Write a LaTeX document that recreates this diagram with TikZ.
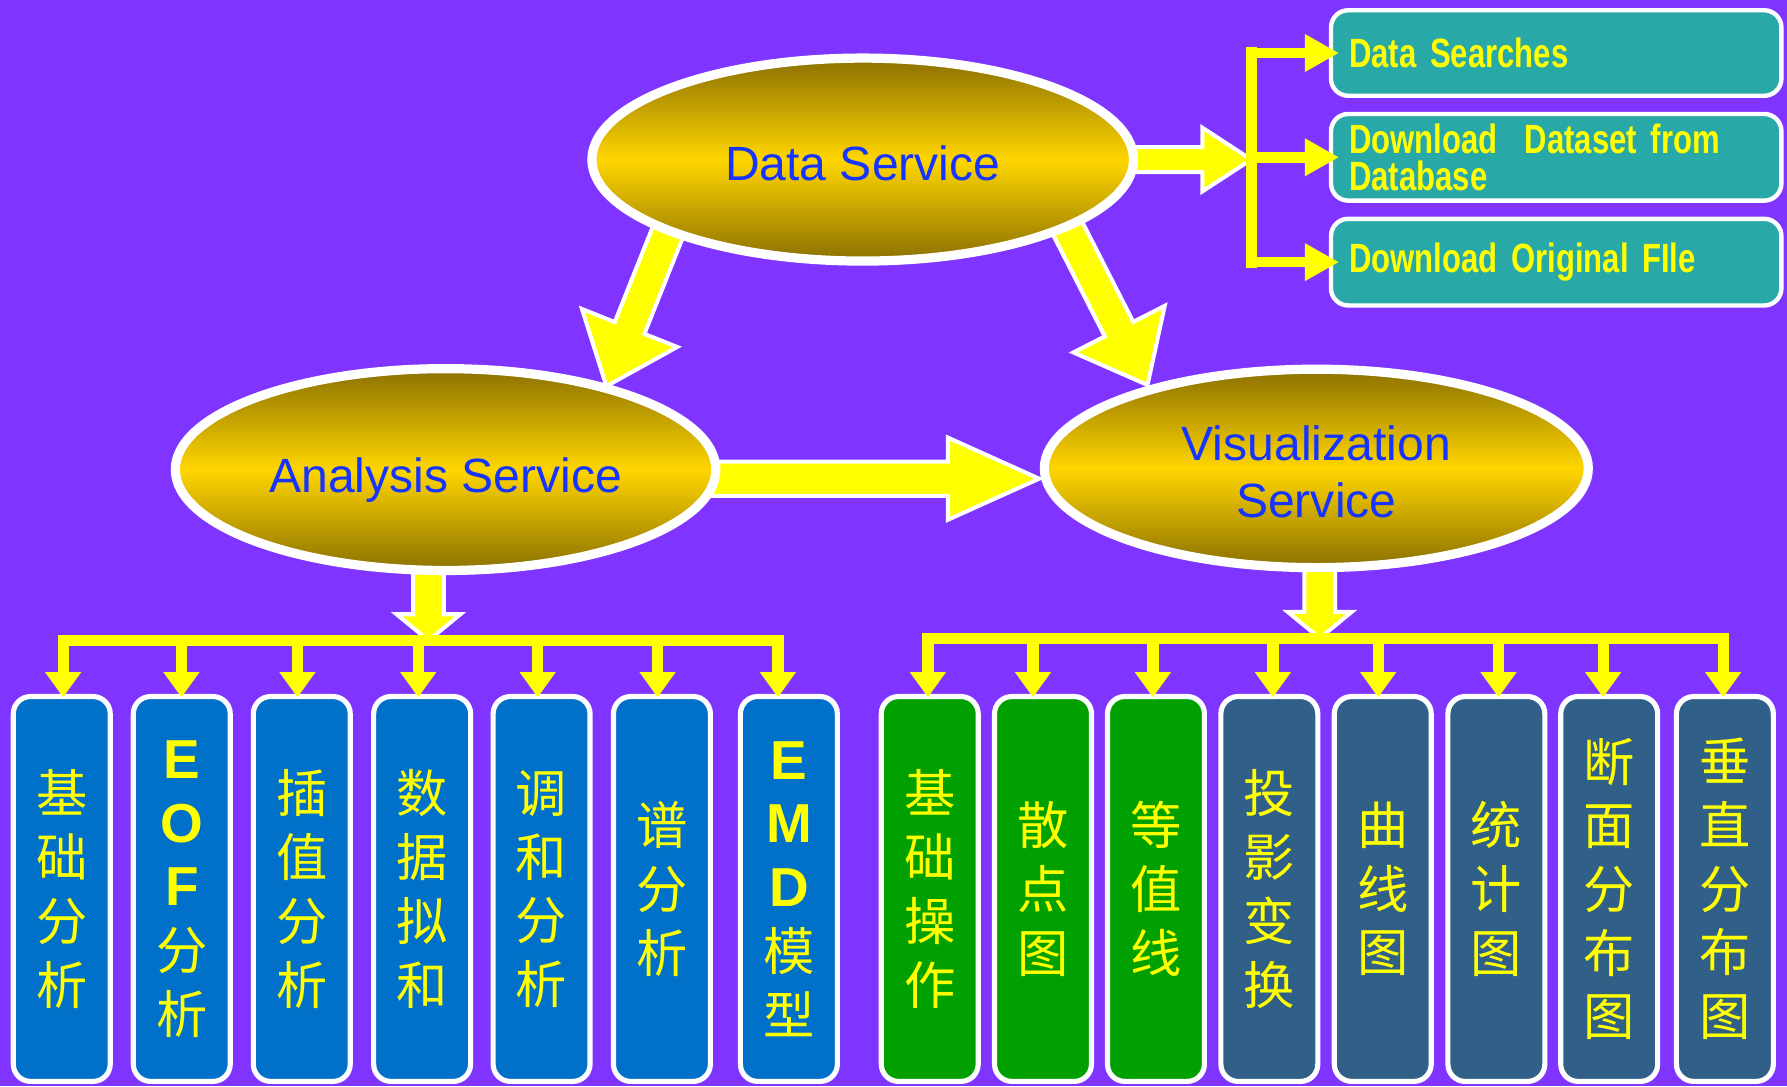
\documentclass[tikz,border=0pt]{standalone}
\usepackage{fontspec}
\setmainfont{Liberation Sans}
\newfontfamily\cjk{Noto Sans CJK SC}
\newfontfamily\narrowfont{Liberation Sans}[FakeStretch=0.76]
\usetikzlibrary{shapes.geometric,arrows.meta,calc}
\pgfdeclarelayer{back}
\pgfdeclarelayer{arrowlayer}
\pgfsetlayers{back,arrowlayer,main}

\definecolor{bgpurple}{RGB}{127,52,255}
\definecolor{ayellow}{RGB}{255,255,0}
\definecolor{gdark}{RGB}{139,112,0}
\definecolor{gbright}{RGB}{255,214,0}
\definecolor{stext}{RGB}{22,52,255}
\definecolor{boxteal}{RGB}{41,168,168}
\definecolor{boxblue}{RGB}{0,112,200}
\definecolor{boxgreen}{RGB}{0,160,0}
\definecolor{boxslate}{RGB}{48,96,136}

\newcommand\latb{\rmfamily\bfseries\fontsize{13.7}{15.9}\selectfont}
\newcommand\lowtext[2]{\raisebox{-#1}[\height][\depth]{#2}}

% block arrow: #1 from, #2 tip, #3 shaft half width, #4 head half width, #5 head length (units of 0.01cm)
\newcommand\blockarrow[5]{%
  \path (#1); \pgfgetlastxy{\bax}{\bay}%
  \path (#2); \pgfgetlastxy{\bbx}{\bby}%
  \pgfmathsetmacro\bang{atan2(\bby-\bay,\bbx-\bax)}%
  \pgfmathsetmacro\blen{veclen(\bbx-\bax,\bby-\bay)/0.284528}%
  \begin{scope}[shift={(\bax,\bay)},rotate=\bang,x=0.01cm,y=0.01cm]
    \path[blockarr] (0,-#3) -- ({\blen-#5},-#3) -- ({\blen-#5},-#4) -- (\blen,0)
      -- ({\blen-#5},#4) -- ({\blen-#5},#3) -- (0,#3) -- cycle;
  \end{scope}}

\begin{document}
\begin{tikzpicture}[x=0.01cm,y=-0.01cm,
  blockarr/.style={fill=ayellow,draw=white,line width=1pt,line join=miter},
  svc/.style={ellipse,draw=white,line width=2.3pt,top color=gdark,bottom color=gdark,
    middle color=gbright,text=stext,font=\fontsize{12}{14.2}\selectfont,inner sep=0pt,align=center},
  dbox/.style={draw=white,line width=1.1pt,rounded corners=4.3pt,fill=boxteal,
    text width=3.63cm,inner xsep=0.16cm,inner ysep=0pt,align=left,text=ayellow,
    font=\narrowfont\bfseries\fontsize{10.2}{9.1}\selectfont},
  vbox/.style={draw=white,line width=1.28pt,rounded corners=4.3pt,minimum width=0.85cm,
    minimum height=3.375cm,inner sep=0pt,text=ayellow,
    font=\cjk\fontsize{12.8}{15.9}\selectfont,align=center},
  thinline/.style={draw=ayellow,line width=2.8pt,line cap=rect},
  drop/.style={draw=ayellow,line width=2.8pt,-{Triangle[width=8.6pt,length=6.3pt]}},
  branch/.style={draw=ayellow,line width=2.6pt,-{Triangle[width=8.8pt,length=8.5pt]}}
]
\begin{pgfonlayer}{back}
\fill[bgpurple] (0,0) rectangle (1568,953);
\end{pgfonlayer}
\useasboundingbox (0,0) rectangle (1568,953);

% service ellipses
\node[svc,minimum width=4.75cm,minimum height=1.78cm] (ds) at (757,140) {\lowtext{0.85pt}{Data Service}};
\node[svc,minimum width=4.74cm,minimum height=1.77cm] (as) at (391,412) {\lowtext{2.6pt}{Analysis Service}};
\node[svc,minimum width=4.77cm,minimum height=1.74cm] (vs) at (1155,411) {\lowtext{0.85pt}{Visualization}\\\lowtext{0.85pt}{Service}};

% data boxes
\node[dbox,minimum height=0.75cm] (d1) at (1365.5,46.5) {Data Searches};
\node[dbox,minimum height=0.76cm] (d2) at (1365.5,138) {Download\ \ Dataset from\\Database};
\node[dbox,minimum height=0.76cm] (d3) at (1365.5,230) {Download Original FIle};

% vertical boxes
\node[vbox,fill=boxblue] (b1) at (54.2,780) {基\\础\\分\\析};
\node[vbox,fill=boxblue] (b2) at (159.5,780) {{\latb E}\\{\latb O}\\{\latb F}\\分\\析};
\node[vbox,fill=boxblue] (b3) at (264.8,780) {插\\值\\分\\析};
\node[vbox,fill=boxblue] (b4) at (370.4,780) {数\\据\\拟\\和};
\node[vbox,fill=boxblue] (b5) at (475.2,780) {调\\和\\分\\析};
\node[vbox,fill=boxblue] (b6) at (580.8,780) {谱\\分\\析};
\node[vbox,fill=boxblue] (b7) at (692.2,780) {{\latb E}\\{\latb M}\\{\latb D}\\模\\型};
\node[vbox,fill=boxgreen] (b8) at (815.8,780) {基\\础\\操\\作};
\node[vbox,fill=boxgreen] (b9) at (915.2,780) {散\\点\\图};
\node[vbox,fill=boxgreen] (b10) at (1014.3,780) {等\\值\\线};
\node[vbox,fill=boxslate] (b11) at (1113.8,780) {投\\影\\变\\换};
\node[vbox,fill=boxslate] (b12) at (1213.3,780) {曲\\线\\图};
\node[vbox,fill=boxslate] (b13) at (1313,780) {统\\计\\图};
\node[vbox,fill=boxslate] (b14) at (1412,780) {断\\面\\分\\布\\图};
\node[vbox,fill=boxslate] (b15) at (1513.5,780) {垂\\直\\分\\布\\图};

% connector points
\coordinate (dsE) at (970,140);
\coordinate (J) at (1098,140);
\coordinate (dsSW) at (595,181);
\coordinate (tipL) at (532,339);
\coordinate (dsSE) at (930,187);
\coordinate (tipR) at (1007,338);
\coordinate (asE) at (600,420);
\coordinate (tipH) at (912,420);
\coordinate (asS) at (376,480);
\coordinate (abar) at (376,562);
\coordinate (vsS) at (1158,480);
\coordinate (vbar) at (1158,560);

\begin{pgfonlayer}{arrowlayer}
\blockarrow{dsE}{J}{11}{28}{43}
\blockarrow{dsSW}{tipL}{14}{45}{55}
\blockarrow{dsSE}{tipR}{14}{45}{55}
\blockarrow{asE}{tipH}{15}{36}{80}
\blockarrow{asS}{abar}{13.5}{28}{23}
\blockarrow{vsS}{vbar}{13.5}{28}{23}
\end{pgfonlayer}

% data branches
\draw[thinline] (J |- d1.west) -- (J |- d3.west);
\foreach \d in {d1,d2,d3}
  \draw[branch] (J |- \d.west) -- ($(\d.west)+(9,0)$);

% analysis tree
\draw[thinline] ($(b1.north |- abar)+(1.2,0)$) -- ($(b7.north |- abar)+(-9.6,0)$);
\foreach \i/\dx in {1/1.2,2/-0.3,3/-3.8,4/-3.4,5/-3.4,6/-3.8,7/-9.6}
  \draw[drop] ($(b\i.north |- abar)+(\dx,0)$) -- ($(b\i.north)+(\dx,3)$);

% visualization tree
\draw[thinline] ($(b8.north |- vbar)+(-1.6,0)$) -- ($(b15.north |- vbar)+(-1.5,0)$);
\foreach \i/\dx in {8/-1.6,9/-8.8,10/-2.7,11/3.1,12/-4,13/1.9,14/-5.3,15/-1.5}
  \draw[drop] ($(b\i.north |- vbar)+(\dx,0)$) -- ($(b\i.north)+(\dx,3)$);
\end{tikzpicture}
\end{document}
